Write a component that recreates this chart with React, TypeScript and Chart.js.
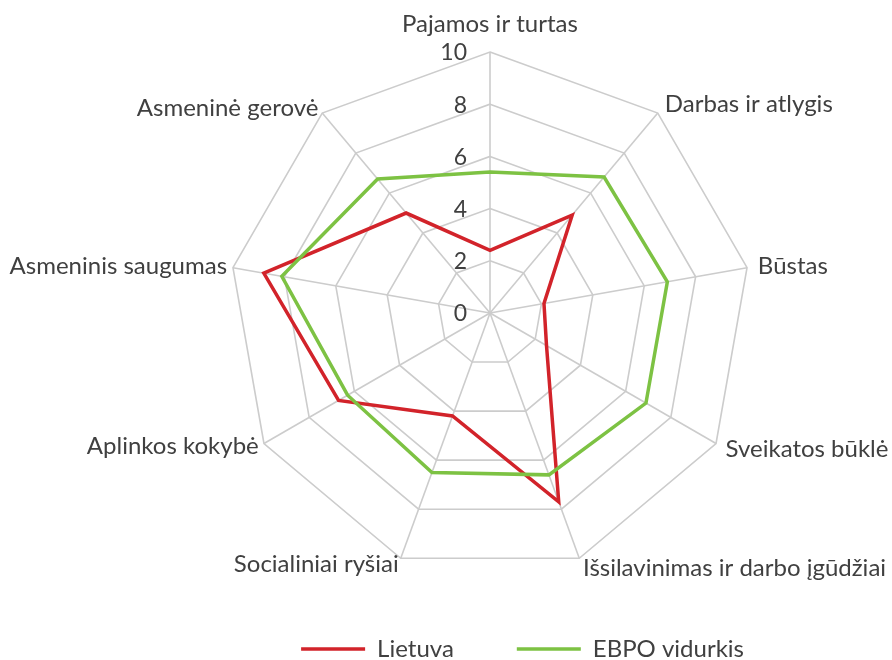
import React, { useEffect, useRef } from "react";
import { Chart, registerables } from "chart.js";

Chart.register(...registerables);

const categories = [
  "Pajamos ir turtas",
  "Darbas ir atlygis",
  "Būstas",
  "Sveikatos būklė",
  "Išsilavinimas ir darbo įgūdžiai",
  "Socialiniai ryšiai",
  "Aplinkos kokybė",
  "Asmeninis saugumas",
  "Asmeninė gerovė",
];
const seriesNames = ["Lietuva", "EBPO vidurkis"];
const lietuva = [2.4, 4.9, 2.1, 2.5, 7.7, 4.2, 6.7, 8.8, 5.0];
const ebpo = [5.4, 6.8, 6.9, 6.9, 6.6, 6.5, 6.3, 8.1, 6.7];
const tickValues = [0, 2, 4, 6, 8, 10];

const FONT = "Lato, 'Open Sans', sans-serif";
const TEXT = "#404040";
const RED = "#d2232a";
const GREEN = "#7dc243";
const GRID = "#cccccc";

const radarText = {
  id: "radarText",
  beforeDatasetsDraw(chart: any) {
    const s = chart.scales.r;
    const ctx = chart.ctx;
    ctx.save();
    ctx.fillStyle = TEXT;
    ctx.textBaseline = "middle";
    ctx.textAlign = "right";
    ctx.font = `23px ${FONT}`;
    for (const v of tickValues) {
      const d = s.getDistanceFromCenterForValue(v);
      ctx.fillText(String(v), s.xCenter - 23, s.yCenter - d + 1);
    }
    ctx.font = `24px ${FONT}`;
    categories.forEach((c, i) => {
      const deg = Math.round((s.getIndexAngle(i) * 180) / Math.PI) % 360;
      let p: any;
      let align: CanvasTextAlign;
      if (deg === 0) {
        p = s.getPointPosition(i, s.drawingArea + 28);
        align = "center";
      } else if (deg < 180) {
        p = s.getPointPosition(i, s.drawingArea + 11);
        align = "left";
      } else {
        p = s.getPointPosition(i, s.drawingArea + 6);
        align = "right";
      }
      ctx.textAlign = align;
      ctx.fillText(c, p.x, p.y);
    });
    ctx.restore();
  },
};

export default function App() {
  const ref = useRef<HTMLCanvasElement | null>(null);
  useEffect(() => {
    if (!ref.current) return;
    const chart = new Chart(ref.current, {
      type: "radar",
      data: {
        labels: categories,
        datasets: [
          {
            label: seriesNames[0],
            data: lietuva,
            borderColor: RED,
            backgroundColor: RED,
            borderWidth: 3.5,
            pointRadius: 0,
            fill: false,
            order: 1,
          },
          {
            label: seriesNames[1],
            data: ebpo,
            borderColor: GREEN,
            backgroundColor: GREEN,
            borderWidth: 3.5,
            pointRadius: 0,
            fill: false,
            order: 0,
          },
        ],
      },
      options: {
        responsive: false,
        animation: false,
        layout: { padding: { left: 173, right: 85, top: 52, bottom: -11 } },
        scales: {
          r: {
            min: 0,
            max: 10,
            startAngle: 0,
            ticks: { stepSize: 2, display: false },
            grid: { color: GRID, lineWidth: 1.6 },
            angleLines: { color: GRID, lineWidth: 1.6 },
            pointLabels: { display: false },
          },
        },
        plugins: {
          tooltip: { enabled: false },
          legend: {
            position: "bottom",
            align: "end",
            labels: {
              color: TEXT,
              font: { family: FONT, size: 24 },
              boxWidth: 64,
              boxHeight: 0,
              padding: 63,
              sort: (a: any, b: any) => a.datasetIndex - b.datasetIndex,
            },
          },
        },
      },
      plugins: [radarText],
    });
    return () => chart.destroy();
  }, []);
  return (
    <div style={{ position: "absolute", left: 0, top: 0, width: 892, height: 660 }}>
      <canvas ref={ref} width={892} height={660} style={{ display: "block" }} />
    </div>
  );
}
